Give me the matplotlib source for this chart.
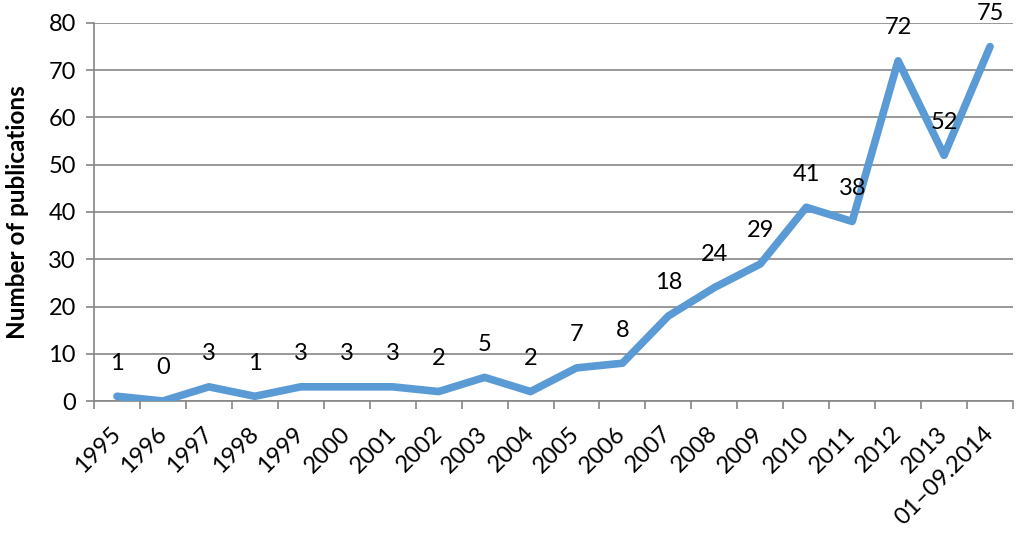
import matplotlib
matplotlib.use("Agg")
import matplotlib.pyplot as plt
from matplotlib.ticker import MultipleLocator, FixedLocator

categories = ["1995", "1996", "1997", "1998", "1999", "2000", "2001", "2002", "2003", "2004",
              "2005", "2006", "2007", "2008", "2009", "2010", "2011", "2012", "2013", "01\u201309.2014"]
values = [1, 0, 3, 1, 3, 3, 3, 2, 5, 2, 7, 8, 18, 24, 29, 41, 38, 72, 52, 75]

plt.rcParams['font.family'] = ['Lato', 'DejaVu Sans']
FS = 17

fig = plt.figure(figsize=(10.24, 5.34), dpi=100)
ax = fig.add_axes([94/1024, 1 - 401/534, (1013 - 94)/1024, (401 - 23)/534])

x = list(range(len(categories)))
ax.plot(x, values, color='#5B9BD5', lw=5.5, solid_joinstyle='round', solid_capstyle='round', zorder=3)

for xi, v in zip(x, values):
    ax.annotate(str(v), (xi, v), xytext=(0, 33), textcoords='offset pixels',
                ha='center', va='center', fontsize=FS, color='black')

ax.set_xlim(-0.5, len(categories) - 0.5)
ax.set_ylim(0, 80)
ax.yaxis.set_major_locator(MultipleLocator(10))
ax.grid(axis='y', color='#868686', lw=1.2)
ax.set_axisbelow(True)

ax.set_xticks(x)
ax.set_xticklabels(categories, rotation=45, ha='right', va='center', rotation_mode='anchor', fontsize=FS)
ax.tick_params(axis='x', which='major', length=0, pad=21)
ax.xaxis.set_minor_locator(FixedLocator([i - 0.5 for i in range(len(categories) + 1)]))
ax.tick_params(axis='x', which='minor', length=6, color='#868686', width=1.2)
ax.tick_params(axis='y', length=6, color='#868686', width=1.2, labelsize=FS, pad=7)

for s in ['top', 'right']:
    ax.spines[s].set_visible(False)
for s in ['left', 'bottom']:
    ax.spines[s].set_color('#868686')
    ax.spines[s].set_linewidth(1.2)

ax.set_ylabel('Number of publications', fontsize=17.5, fontweight='bold')
ax.yaxis.set_label_coords(-0.0707, 0.5)

fig.savefig('out.png', dpi=100)
